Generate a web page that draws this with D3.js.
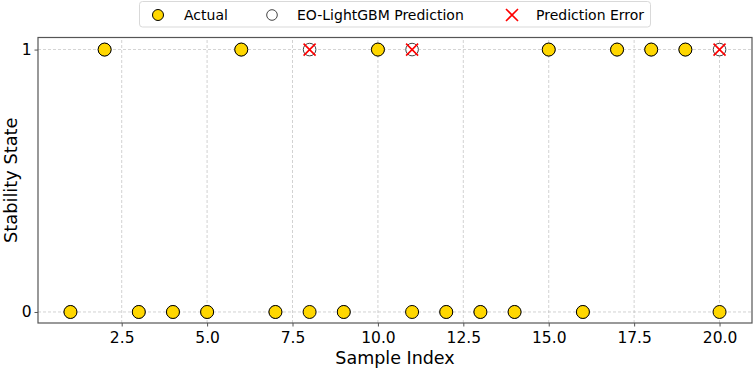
<!DOCTYPE html>
<html>
<head>
<meta charset="utf-8">
<script src="https://cdn.jsdelivr.net/npm/d3@7"></script>
<style>
  body { margin: 0; background: #fff; }
  text { font-family: "DejaVu Sans", sans-serif; }
</style>
</head>
<body>
<div id="chart"></div>
<script>
// data
var sampleIndex = d3.range(1, 21);
var actual    = [0, 1, 0, 0, 0, 1, 0, 0, 0, 1, 0, 0, 0, 0, 1, 0, 1, 1, 1, 0];
var predicted = [0, 1, 0, 0, 0, 1, 0, 1, 0, 1, 1, 0, 0, 0, 1, 0, 1, 1, 1, 1];
var xTicks = [2.5, 5.0, 7.5, 10.0, 12.5, 15.0, 17.5, 20.0];
var yTicks = [0, 1];

var WIDTH = 754, HEIGHT = 368;
var MARGIN = { LEFT: 38, RIGHT: 2, TOP: 37.5, BOTTOM: 45 };

var svg = d3.select("#chart").append("svg")
    .attr("width", WIDTH)
    .attr("height", HEIGHT);

var x = d3.scaleLinear().domain([0.05, 20.95]).range([MARGIN.LEFT, WIDTH - MARGIN.RIGHT]);
var y = d3.scaleLinear().domain([-0.042, 1.046]).range([HEIGHT - MARGIN.BOTTOM, MARGIN.TOP]);

var rows = sampleIndex.map(function(d, i) {
    return { idx: d, actual: actual[i], pred: predicted[i] };
});

// grid
svg.append("g").selectAll("line").data(xTicks).enter().append("line")
    .attr("x1", function(d) { return x(d); }).attr("x2", function(d) { return x(d); })
    .attr("y1", y.range()[0]).attr("y2", y.range()[1])
    .attr("stroke", "#b0b0b0").attr("stroke-width", 0.8)
    .attr("stroke-dasharray", "3,2").attr("opacity", 0.7);
svg.append("g").selectAll("line").data(yTicks).enter().append("line")
    .attr("y1", function(d) { return y(d); }).attr("y2", function(d) { return y(d); })
    .attr("x1", x.range()[0]).attr("x2", x.range()[1])
    .attr("stroke", "#b0b0b0").attr("stroke-width", 0.8)
    .attr("stroke-dasharray", "3,2").attr("opacity", 0.7);

// axes
var xAxis = svg.append("g")
    .attr("transform", "translate(0," + y.range()[0] + ")")
    .call(d3.axisBottom(x).tickValues(xTicks).tickFormat(d3.format(".1f")).tickSize(3.5).tickPadding(5));
var yAxis = svg.append("g")
    .attr("transform", "translate(" + x.range()[0] + ",0)")
    .call(d3.axisLeft(y).tickValues(yTicks).tickFormat(d3.format("d")).tickSize(3.5).tickPadding(3));
[xAxis, yAxis].forEach(function(a) {
    a.select(".domain").remove();
    a.selectAll(".tick line").attr("stroke", "#555");
    a.selectAll(".tick text").attr("fill", "#000").style("font-size", "15.5px")
        .style("font-family", "DejaVu Sans");
});

// frame
svg.append("rect")
    .attr("x", x.range()[0]).attr("y", y.range()[1])
    .attr("width", x.range()[1] - x.range()[0])
    .attr("height", y.range()[0] - y.range()[1])
    .attr("fill", "none").attr("stroke", "#555").attr("stroke-width", 1.2);

// labels
svg.append("text")
    .attr("x", (x.range()[0] + x.range()[1]) / 2).attr("y", 363.5)
    .attr("text-anchor", "middle").style("font-size", "17.5px")
    .text("Sample Index");
svg.append("text")
    .attr("transform", "translate(16.5," + (y.range()[0] + y.range()[1]) / 2 + ") rotate(-90)")
    .attr("text-anchor", "middle").style("font-size", "17.8px")
    .text("Stability State");

// predictions (under the actual points)
svg.append("g").selectAll("circle").data(rows).enter().append("circle")
    .attr("cx", function(d) { return x(d.idx); })
    .attr("cy", function(d) { return y(d.pred); })
    .attr("r", 6.3)
    .attr("fill", "#fff").attr("stroke", "#444").attr("stroke-width", 1);

// actual
svg.append("g").selectAll("circle").data(rows).enter().append("circle")
    .attr("cx", function(d) { return x(d.idx); })
    .attr("cy", function(d) { return y(d.actual); })
    .attr("r", 6.5)
    .attr("fill", "#FFD700").attr("stroke", "#000").attr("stroke-width", 1);

// errors
var cross = "M-6,-6L6,6M-6,6L6,-6";
svg.append("g").selectAll("path")
    .data(rows.filter(function(d) { return d.actual !== d.pred; }))
    .enter().append("path")
    .attr("transform", function(d) { return "translate(" + x(d.idx) + "," + y(d.pred) + ")"; })
    .attr("d", cross)
    .attr("stroke", "#ff0000").attr("stroke-width", 1.6).attr("fill", "none");

// legend
var legend = svg.append("g");
legend.append("rect")
    .attr("x", 139.5).attr("y", 1.5).attr("width", 511).attr("height", 25.5)
    .attr("rx", 3).attr("fill", "#fff").attr("stroke", "#d9d9d9").attr("stroke-width", 1);
var items = [
    { label: "Actual", mx: 158, tx: 184, kind: "actual" },
    { label: "EO-LightGBM Prediction", mx: 272, tx: 297, kind: "pred" },
    { label: "Prediction Error", mx: 512, tx: 536, kind: "error" }
];
items.forEach(function(it) {
    if (it.kind === "error") {
        legend.append("path").attr("transform", "translate(" + it.mx + ",15)")
            .attr("d", cross).attr("stroke", "#ff0000").attr("stroke-width", 1.6);
    } else {
        legend.append("circle").attr("cx", it.mx).attr("cy", 15).attr("r", it.kind === "actual" ? 5.5 : 5.3)
            .attr("fill", it.kind === "actual" ? "#FFD700" : "#fff")
            .attr("stroke", it.kind === "actual" ? "#000" : "#444").attr("stroke-width", 1);
    }
    legend.append("text").attr("x", it.tx).attr("y", 20)
        .style("font-size", "14px").text(it.label);
});
</script>
</body>
</html>
